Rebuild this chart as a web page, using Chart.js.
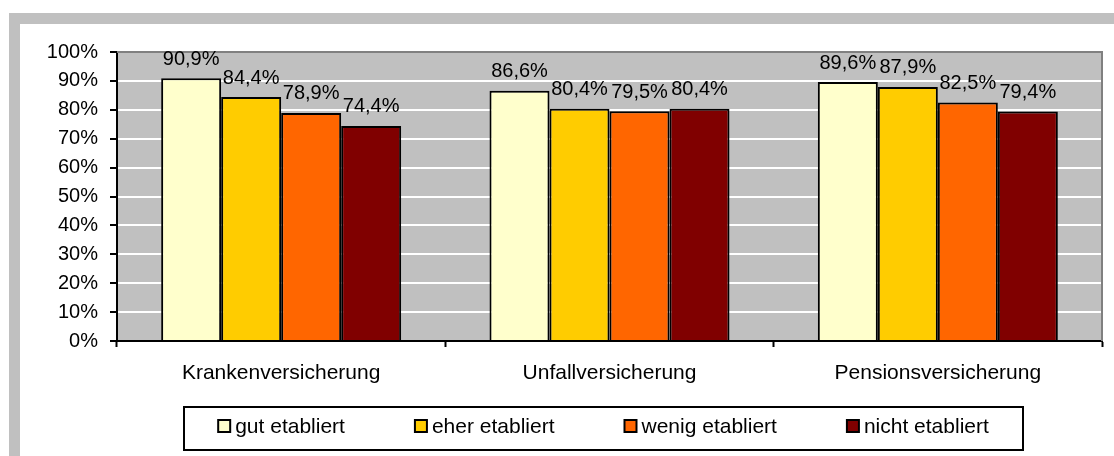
<!DOCTYPE html>
<html>
<head>
<meta charset="utf-8">
<script src="https://cdn.jsdelivr.net/npm/chart.js@4"></script>
<style>
  html, body { margin: 0; padding: 0; background: #fff; overflow: hidden; }
  .wrap { position: relative; width: 1114px; height: 456px; overflow: hidden; }
  .frame {
    position: absolute; left: 9px; top: 13px;
    width: 1200px; height: 520px;
    border: 11px solid #c0c0c0; background: #fff;
  }
  #chart { position: absolute; left: 0; top: 0; }
</style>
</head>
<body>
<div class="wrap">
  <div class="frame"></div>
  <canvas id="chart" width="1114" height="456"></canvas>
</div>
<script>
const categories = ['Krankenversicherung', 'Unfallversicherung', 'Pensionsversicherung'];
const seriesNames = ['gut etabliert', 'eher etabliert', 'wenig etabliert', 'nicht etabliert'];
const gutEtabliert = [90.9, 86.6, 89.6];
const eherEtabliert = [84.4, 80.4, 87.9];
const wenigEtabliert = [78.9, 79.5, 82.5];
const nichtEtabliert = [74.4, 80.4, 79.4];
const yTicks = [0, 10, 20, 30, 40, 50, 60, 70, 80, 90, 100];

const colors = ['#ffffcc', '#ffcc00', '#ff6600', '#800000'];
const FONT = 'Arial, "Liberation Sans", sans-serif';
Chart.defaults.font.family = FONT;
Chart.defaults.color = '#000';

const pct = v => v.toFixed(1).replace('.', ',') + '%';

// gray plot background + dark gray top/right edge
const plotArea = {
  id: 'plotArea',
  beforeDraw(chart) {
    const { ctx, chartArea: a } = chart;
    ctx.save();
    ctx.fillStyle = '#c0c0c0';
    ctx.fillRect(a.left, a.top, a.right - a.left, a.bottom - a.top);
    ctx.restore();
  },
  beforeDatasetsDraw(chart) {
    const { ctx, chartArea: a } = chart;
    ctx.save();
    ctx.strokeStyle = '#808080';
    ctx.lineWidth = 2;
    ctx.beginPath();
    ctx.moveTo(a.left, a.top);
    ctx.lineTo(a.right, a.top);
    ctx.lineTo(a.right, a.bottom);
    ctx.stroke();
    ctx.restore();
  }
};

// value labels above each bar
const valueLabels = {
  id: 'valueLabels',
  afterDatasetsDraw(chart) {
    const ctx = chart.ctx;
    ctx.save();
    ctx.font = '20px ' + FONT;
    ctx.fillStyle = '#000';
    ctx.textAlign = 'center';
    ctx.textBaseline = 'middle';
    chart.data.datasets.forEach((ds, i) => {
      chart.getDatasetMeta(i).data.forEach((bar, j) => {
        ctx.fillText(pct(ds.data[j]), bar.x, bar.y - 19);
      });
    });
    ctx.restore();
  }
};

// boxed legend row under the axis
const boxLegend = {
  id: 'boxLegend',
  afterDraw(chart) {
    const ctx = chart.ctx;
    const box = { left: 184, right: 1023, top: 407, bottom: 450 };
    const mark = 12, textGap = 5, itemGap = 70;
    ctx.save();
    ctx.font = '21px ' + FONT;
    const widths = chart.data.datasets.map(ds => ctx.measureText(ds.label).width);
    const total = widths.reduce((s, w) => s + mark + textGap + w, 0) + itemGap * (widths.length - 1);
    let x = (box.left + box.right) / 2 - total / 2;
    const cy = 426;

    ctx.fillStyle = '#fff';
    ctx.fillRect(box.left, box.top, box.right - box.left, box.bottom - box.top);
    ctx.strokeStyle = '#000';
    ctx.lineWidth = 2;
    ctx.strokeRect(box.left, box.top, box.right - box.left, box.bottom - box.top);

    chart.data.datasets.forEach((ds, i) => {
      ctx.fillStyle = ds.backgroundColor;
      ctx.fillRect(x, cy - mark / 2, mark, mark);
      ctx.strokeStyle = '#000';
      ctx.lineWidth = 2;
      ctx.strokeRect(x, cy - mark / 2, mark, mark);
      ctx.fillStyle = '#000';
      ctx.textAlign = 'left';
      ctx.textBaseline = 'middle';
      ctx.fillText(ds.label, x + mark + textGap, cy + 1);
      x += mark + textGap + widths[i] + itemGap;
    });
    ctx.restore();
  }
};

const seriesData = [gutEtabliert, eherEtabliert, wenigEtabliert, nichtEtabliert];

new Chart(document.getElementById('chart'), {
  type: 'bar',
  data: {
    labels: categories,
    datasets: seriesNames.map((name, i) => ({
      label: name,
      data: seriesData[i],
      backgroundColor: colors[i],
      borderColor: '#000',
      borderWidth: 2,
      categoryPercentage: 0.731,
      barPercentage: 1
    }))
  },
  options: {
    responsive: false,
    animation: false,
    devicePixelRatio: 1,
    layout: { padding: { left: 0, right: 12, top: 52, bottom: 65 } },
    plugins: {
      legend: { display: false },
      tooltip: { enabled: false }
    },
    scales: {
      x: {
        grid: {
          offset: true,
          drawOnChartArea: false,
          tickColor: '#000',
          tickWidth: 2,
          tickLength: 6
        },
        border: { color: '#000', width: 2 },
        ticks: { font: { size: 21 }, padding: 14, maxRotation: 0 },
        afterFit(scale) { scale.height = 50; }
      },
      y: {
        min: 0,
        max: 100,
        afterBuildTicks(scale) { scale.ticks = yTicks.map(v => ({ value: v })); },
        grid: {
          color: c => (c.tick && (c.tick.value === 0 || c.tick.value === 100)) ? 'rgba(0,0,0,0)' : '#ffffff',
          lineWidth: 2,
          tickColor: '#000',
          tickWidth: 2,
          tickLength: 7
        },
        border: { color: '#000', width: 2 },
        ticks: { font: { size: 20 }, padding: 12, callback: v => v + '%' },
        afterFit(scale) { scale.width = 117; }
      }
    }
  },
  plugins: [plotArea, valueLabels, boxLegend]
});
</script>
</body>
</html>
